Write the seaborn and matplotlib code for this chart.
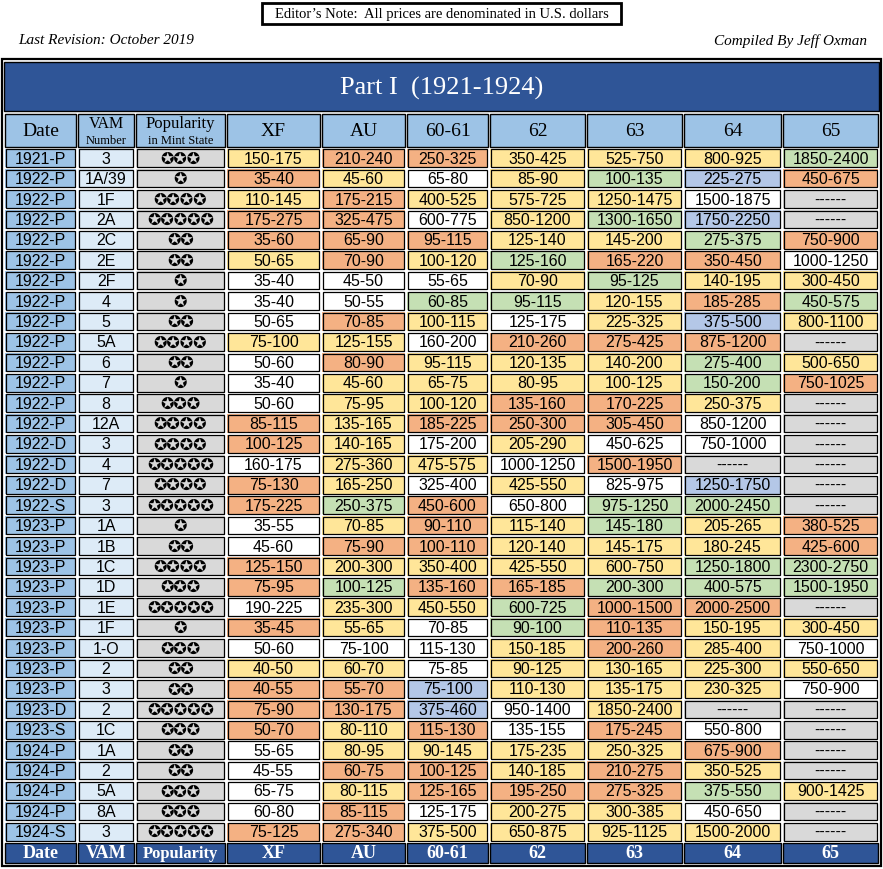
import matplotlib
matplotlib.use("Agg")
import matplotlib.pyplot as plt
import seaborn as sns
import numpy as np
from matplotlib.colors import ListedColormap
from matplotlib.patches import Rectangle

# ---------------- data ----------------
dates = ["1921-P"] + ["1922-P"] * 13 + ["1922-D"] * 3 + ["1922-S"] + ["1923-P"] * 9 + \
        ["1923-D", "1923-S"] + ["1924-P"] * 4 + ["1924-S"]
vams = ["3", "1A/39", "1F", "2A", "2C", "2E", "2F", "4", "5", "5A", "6", "7", "8", "12A",
        "3", "4", "7", "3", "1A", "1B", "1C", "1D", "1E", "1F", "1-O", "2", "3", "2", "1C",
        "1A", "2", "5A", "8A", "3"]
popularity = [3, 1, 4, 5, 2, 2, 1, 1, 2, 4, 2, 1, 3, 4, 4, 5, 4, 5, 1, 2, 4, 3, 5, 1, 3, 2,
              2, 5, 3, 2, 2, 3, 3, 5]
grades = ["XF", "AU", "60-61", "62", "63", "64", "65"]

xf = ["150-175", "35-40", "110-145", "175-275", "35-60", "50-65", "35-40", "35-40", "50-65",
      "75-100", "50-60", "35-40", "50-60", "85-115", "100-125", "160-175", "75-130", "175-225",
      "35-55", "45-60", "125-150", "75-95", "190-225", "35-45", "50-60", "40-50", "40-55",
      "75-90", "50-70", "55-65", "45-55", "65-75", "60-80", "75-125"]
au = ["210-240", "45-60", "175-215", "325-475", "65-90", "70-90", "45-50", "50-55", "70-85",
      "125-155", "80-90", "45-60", "75-95", "135-165", "140-165", "275-360", "165-250",
      "250-375", "70-85", "75-90", "200-300", "100-125", "235-300", "55-65", "75-100", "60-70",
      "55-70", "130-175", "80-110", "80-95", "60-75", "80-115", "85-115", "275-340"]
ms60 = ["250-325", "65-80", "400-525", "600-775", "95-115", "100-120", "55-65", "60-85",
        "100-115", "160-200", "95-115", "65-75", "100-120", "185-225", "175-200", "475-575",
        "325-400", "450-600", "90-110", "100-110", "350-400", "135-160", "450-550", "70-85",
        "115-130", "75-85", "75-100", "375-460", "115-130", "90-145", "100-125", "125-165",
        "125-175", "375-500"]
ms62 = ["350-425", "85-90", "575-725", "850-1200", "125-140", "125-160", "70-90", "95-115",
        "125-175", "210-260", "120-135", "80-95", "135-160", "250-300", "205-290", "1000-1250",
        "425-550", "650-800", "115-140", "120-140", "425-550", "165-185", "600-725", "90-100",
        "150-185", "90-125", "110-130", "950-1400", "135-155", "175-235", "140-185", "195-250",
        "200-275", "650-875"]
ms63 = ["525-750", "100-135", "1250-1475", "1300-1650", "145-200", "165-220", "95-125",
        "120-155", "225-325", "275-425", "140-200", "100-125", "170-225", "305-450", "450-625",
        "1500-1950", "825-975", "975-1250", "145-180", "145-175", "600-750", "200-300",
        "1000-1500", "110-135", "200-260", "130-165", "135-175", "1850-2400", "175-245",
        "250-325", "210-275", "275-325", "300-385", "925-1125"]
ms64 = ["800-925", "225-275", "1500-1875", "1750-2250", "275-375", "350-450", "140-195",
        "185-285", "375-500", "875-1200", "275-400", "150-200", "250-375", "850-1200",
        "750-1000", "------", "1250-1750", "2000-2450", "205-265", "180-245", "1250-1800",
        "400-575", "2000-2500", "150-195", "285-400", "225-300", "230-325", "------", "550-800",
        "675-900", "350-525", "375-550", "450-650", "1500-2000"]
ms65 = ["1850-2400", "450-675", "------", "------", "750-900", "1000-1250", "300-450",
        "450-575", "800-1100", "------", "500-650", "750-1025", "------", "------", "------",
        "------", "------", "------", "380-525", "425-600", "2300-2750", "1500-1950", "------",
        "300-450", "750-1000", "550-650", "750-900", "------", "------", "------", "------",
        "900-1425", "------", "------"]

# value tier of each cell (O=orange, Y=yellow, W=white, G=green, B=blue, D=no data)
xf_tier = "YOYOOYWWWY" + "WWWOOWOOWW" + "OOWOWYOOOW" + "WWWO"
au_tier = "OYOOOOWWOY" + "OYYYYYYGYO" + "YGYYWYOOYY" + "OYOO"
ms60_tier = "OWYWOYWGYW" + "YYYOWYWOOO" + "YOYWWWBBOY" + "OOWY"
ms62_tier = "YYYYYGYGWO" + "YYOOYWYWYY" + "YOGGYYYWWY" + "YOYY"
ms63_tier = "YGYGYOGYYO" + "YYOOWOWGGY" + "YGOOOYYYOY" + "OOYY"
ms64_tier = "YBWBGOYOBO" + "GGYWWDBGYY" + "GGOYYYYDWO" + "YGWY"
ms65_tier = "GODDOWYGYD" + "YODDDDDDOO" + "GGDYWYWDDD" + "DYDD"

prices = [xf, au, ms60, ms62, ms63, ms64, ms65]
tiers = [xf_tier, au_tier, ms60_tier, ms62_tier, ms63_tier, ms64_tier, ms65_tier]

# ---------------- style ----------------
tier_keys = ["O", "Y", "W", "G", "B", "D", "DATE", "VAM"]
tier_colors = ["#F4B183", "#FFE699", "#FFFFFF", "#C5E0B4", "#B4C7E7", "#D9D9D9",
               "#9DC3E6", "#DDEBF7"]
cmap = ListedColormap(tier_colors)
NAVY = "#2F5597"
HEAD = "#9DC3E6"

W, H = 883, 870
fig = plt.figure(figsize=(W / 100, H / 100), dpi=100)
fig.patch.set_facecolor("white")

col_l = [5, 78, 136, 227, 322, 407, 490, 587, 684, 783]
col_r = [76, 134, 225, 320, 405, 488, 585, 682, 781, 878]
data_top, data_bot = 149, 843
nrows = len(dates)

serif = "Liberation Serif"
sans = "Liberation Sans"


def fx(x):
    return x / W


def fy(y):
    return 1 - y / H


def fig_rect(x0, y0, x1, y1, fc, ec="black", lw=1.0):
    fig.patches.append(Rectangle((fx(x0), fy(y1)), fx(x1) - fx(x0), fy(y0) - fy(y1),
                                 transform=fig.transFigure, facecolor=fc, edgecolor=ec,
                                 linewidth=lw, zorder=0))


# top notes
fig_rect(262, 4, 621, 25, "white", lw=2.0)
fig.text(fx(441.5), fy(14.5), "Editor\u2019s Note:  All prices are denominated in U.S. dollars",
         ha="center", va="center", family=serif, fontsize=10.5)
fig.text(fx(18), fy(41), "Last Revision: October 2019", ha="left", va="center",
         family=serif, style="italic", fontsize=11)
fig.text(fx(867), fy(41), "Compiled By Jeff Oxman", ha="right", va="center",
         family=serif, style="italic", fontsize=11)

# outer frame & title band
fig_rect(2, 60, 881, 867, "none", lw=1.6)
fig_rect(4, 63, 879, 112, NAVY, lw=1.0)
fig.text(fx(441.5), fy(88), "Part I  (1921-1924)", ha="center", va="center",
         family=serif, fontsize=19, color="white")

# header and footer rows
head_labels = ["Date", "VAM", "Popularity"] + grades
foot_labels = ["Date", "VAM", "Popularity"] + grades
for j in range(10):
    fig_rect(col_l[j], 115, col_r[j], 148, HEAD)
    fig_rect(col_l[j], 844, col_r[j], 864, NAVY)
    cx = fx((col_l[j] + col_r[j]) / 2)
    if j == 1:
        fig.text(cx, fy(124), "VAM", ha="center", va="center", family=serif, fontsize=11.5)
        fig.text(cx, fy(140.5), "Number", ha="center", va="center", family=serif, fontsize=9)
    elif j == 2:
        fig.text(cx, fy(124), "Popularity", ha="center", va="center", family=serif,
                 fontsize=12)
        fig.text(cx, fy(140.5), "in Mint State", ha="center", va="center", family=serif,
                 fontsize=9)
    else:
        fig.text(cx, fy(131.5), head_labels[j], ha="center", va="center", family=serif,
                 fontsize=14)
    fig.text(cx, fy(854), foot_labels[j], ha="center", va="center", family=serif,
             fontsize=12 if j == 2 else 13, fontweight="bold", color="white")

# body columns (each column is a one-column heatmap)
columns = [
    (np.full(nrows, tier_keys.index("DATE")), dates, sans, 11.5),
    (np.full(nrows, tier_keys.index("VAM")), vams, sans, 11.5),
    (np.full(nrows, tier_keys.index("D")), ["\u272a" * p for p in popularity],
     "DejaVu Sans", 11.5),
]
for pr, tr in zip(prices, tiers):
    columns.append((np.array([tier_keys.index(t) for t in tr]), pr, sans, 11.5))

for j, (codes, labels, fam, fs) in enumerate(columns):
    ax = fig.add_axes([fx(col_l[j] - 1), fy(data_bot), fx(col_r[j] + 1) - fx(col_l[j] - 1),
                       fy(data_top) - fy(data_bot)])
    sns.heatmap(codes.reshape(-1, 1), ax=ax, cmap=cmap, vmin=-0.5,
                vmax=len(tier_colors) - 0.5, cbar=False,
                annot=np.array(labels, dtype=object).reshape(-1, 1), fmt="",
                annot_kws={"family": fam, "fontsize": fs, "color": "black"},
                linewidths=1.4, linecolor="white", xticklabels=False, yticklabels=False)
    wpx = col_r[j] - col_l[j] + 2
    hpx = (data_bot - data_top) / nrows
    dx = 1.6 / wpx
    dy = 1.4 / hpx
    for i in range(nrows):
        ax.add_patch(Rectangle((dx, i + dy), 1 - 2 * dx, 1 - 2 * dy, fill=False,
                               edgecolor="black", linewidth=0.9))
    ax.set_xlabel("")
    ax.set_ylabel("")
    for s in ax.spines.values():
        s.set_visible(False)

fig.savefig("out.png", dpi=100, facecolor="white")
